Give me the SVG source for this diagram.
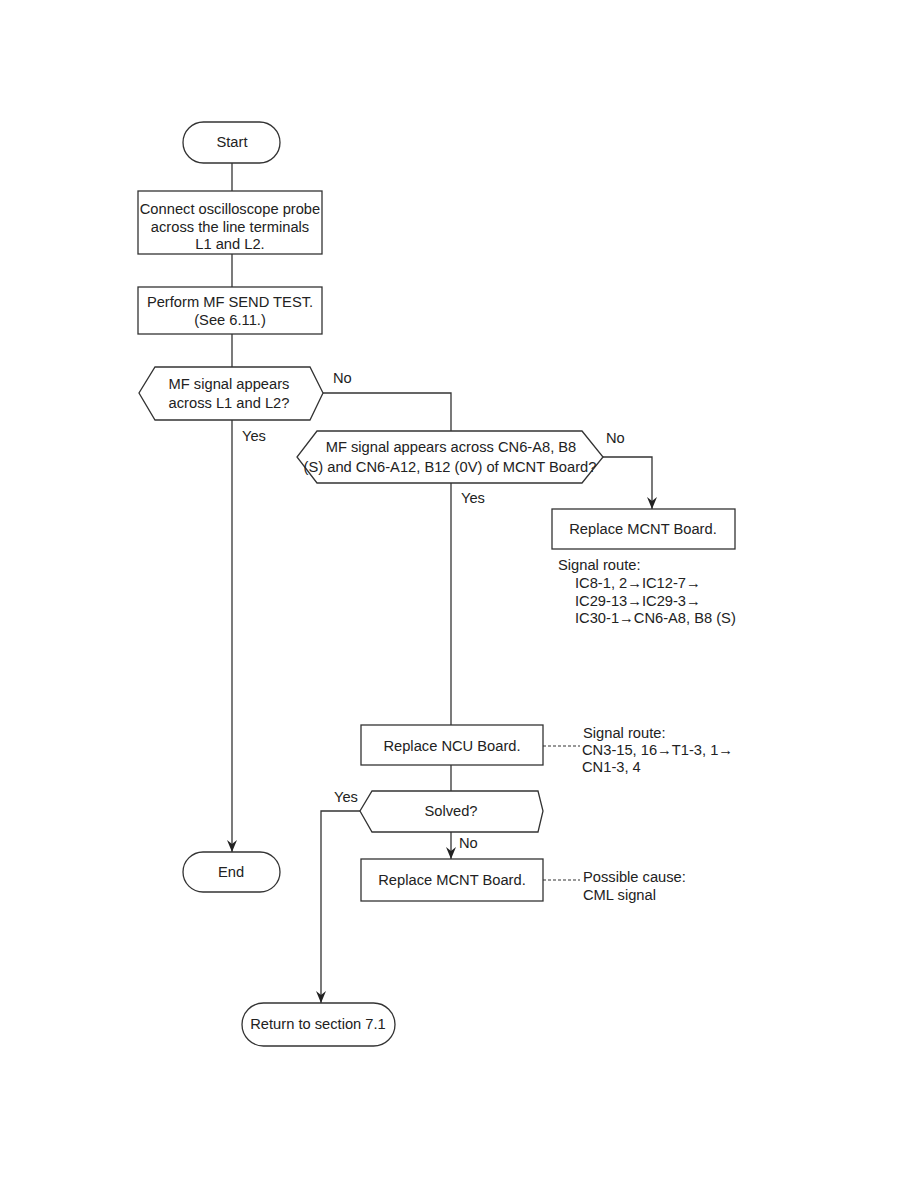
<svg xmlns="http://www.w3.org/2000/svg" width="918" height="1188" viewBox="0 0 918 1188">
<defs>
<marker id="arr" markerWidth="12" markerHeight="10" refX="12" refY="5" orient="auto" markerUnits="userSpaceOnUse" viewBox="0 0 12 10">
<path d="M0,0 L12,5 L0,10 L4,5 Z" fill="#222"/>
</marker>
</defs>
<style>
.s{fill:#fff;stroke:#333;stroke-width:1.3}
.l{fill:none;stroke:#333;stroke-width:1.3}
.d{fill:none;stroke:#333;stroke-width:1.1;stroke-dasharray:3,2}
text{font-family:"Liberation Sans",Arial,sans-serif;font-size:14.7px;fill:#222}
.c{text-anchor:middle}
</style>
<rect width="918" height="1188" fill="#fff"/>
<g id="connectors">
<path class="l" d="M232,163 V191"/>
<path class="l" d="M232,254 V287"/>
<path class="l" d="M232,334 V367"/>
<path class="l" d="M232,420 V852" marker-end="url(#arr)"/>
<path class="l" d="M323,393 H451 V431"/>
<path class="l" d="M603,457 H652 V509" marker-end="url(#arr)"/>
<path class="l" d="M451,483 V725"/>
<path class="l" d="M451,765 V791"/>
<path class="l" d="M451,832 V859" marker-end="url(#arr)"/>
<path class="l" d="M360,811 H321 V1003" marker-end="url(#arr)"/>
<path class="d" d="M543,746 H580"/>
<path class="d" d="M543,880 H580"/>
<text x="333" y="383">No</text>
<text x="242" y="441">Yes</text>
<text x="606" y="443">No</text>
<text x="461" y="503">Yes</text>
<text x="334" y="802">Yes</text>
<text x="459" y="848">No</text>
</g>
<g id="start">
<rect class="s" x="183" y="122" width="97" height="41" rx="20.5"/>
<text class="c" x="232" y="147">Start</text>
</g>
<g id="connect">
<rect class="s" x="138" y="191" width="184" height="63"/>
<text class="c" x="230" y="214">Connect oscilloscope probe</text>
<text class="c" x="230" y="232">across the line terminals</text>
<text class="c" x="230" y="249">L1 and L2.</text>
</g>
<g id="perform">
<rect class="s" x="138" y="287" width="184" height="47"/>
<text class="c" x="230" y="307">Perform MF SEND TEST.</text>
<text class="c" x="230" y="325">(See 6.11.)</text>
</g>
<g id="decision1">
<polygon class="s" points="155,367 310,367 323,393 310,420 155,420 139,393"/>
<text class="c" x="229" y="389">MF signal appears</text>
<text class="c" x="229" y="408">across L1 and L2?</text>
</g>
<g id="decision2">
<polygon class="s" points="317,431 582,431 603,457 582,483 317,483 297,457"/>
<text class="c" x="451" y="452">MF signal appears across CN6-A8, B8</text>
<text class="c" x="450" y="472">(S) and CN6-A12, B12 (0V) of MCNT Board?</text>
</g>
<g id="mcnt1">
<rect class="s" x="552" y="509" width="183" height="40"/>
<text class="c" x="643" y="534">Replace MCNT Board.</text>
</g>
<g id="route1">
<text x="558" y="570">Signal route:</text>
<text x="575" y="588">IC8-1, 2→IC12-7→</text>
<text x="575" y="606">IC29-13→IC29-3→</text>
<text x="575" y="623">IC30-1→CN6-A8, B8 (S)</text>
</g>
<g id="ncu">
<rect class="s" x="361" y="725" width="182" height="40"/>
<text class="c" x="452" y="751">Replace NCU Board.</text>
</g>
<g id="route2">
<text x="583" y="738">Signal route:</text>
<text x="582" y="755">CN3-15, 16→T1-3, 1→</text>
<text x="582" y="772">CN1-3, 4</text>
</g>
<g id="solved">
<polygon class="s" points="372,791 538,791 543,811 538,832 372,832 360,811"/>
<text class="c" x="451" y="816">Solved?</text>
</g>
<g id="mcnt2">
<rect class="s" x="361" y="859" width="182" height="42"/>
<text class="c" x="452" y="885">Replace MCNT Board.</text>
</g>
<g id="cause">
<text x="583" y="882">Possible cause:</text>
<text x="583" y="900">CML signal</text>
</g>
<g id="end">
<rect class="s" x="183" y="852" width="97" height="40" rx="20"/>
<text class="c" x="231" y="877">End</text>
</g>
<g id="return">
<rect class="s" x="242" y="1003" width="153" height="43" rx="21.5"/>
<text class="c" x="318" y="1029">Return to section 7.1</text>
</g>
</svg>
